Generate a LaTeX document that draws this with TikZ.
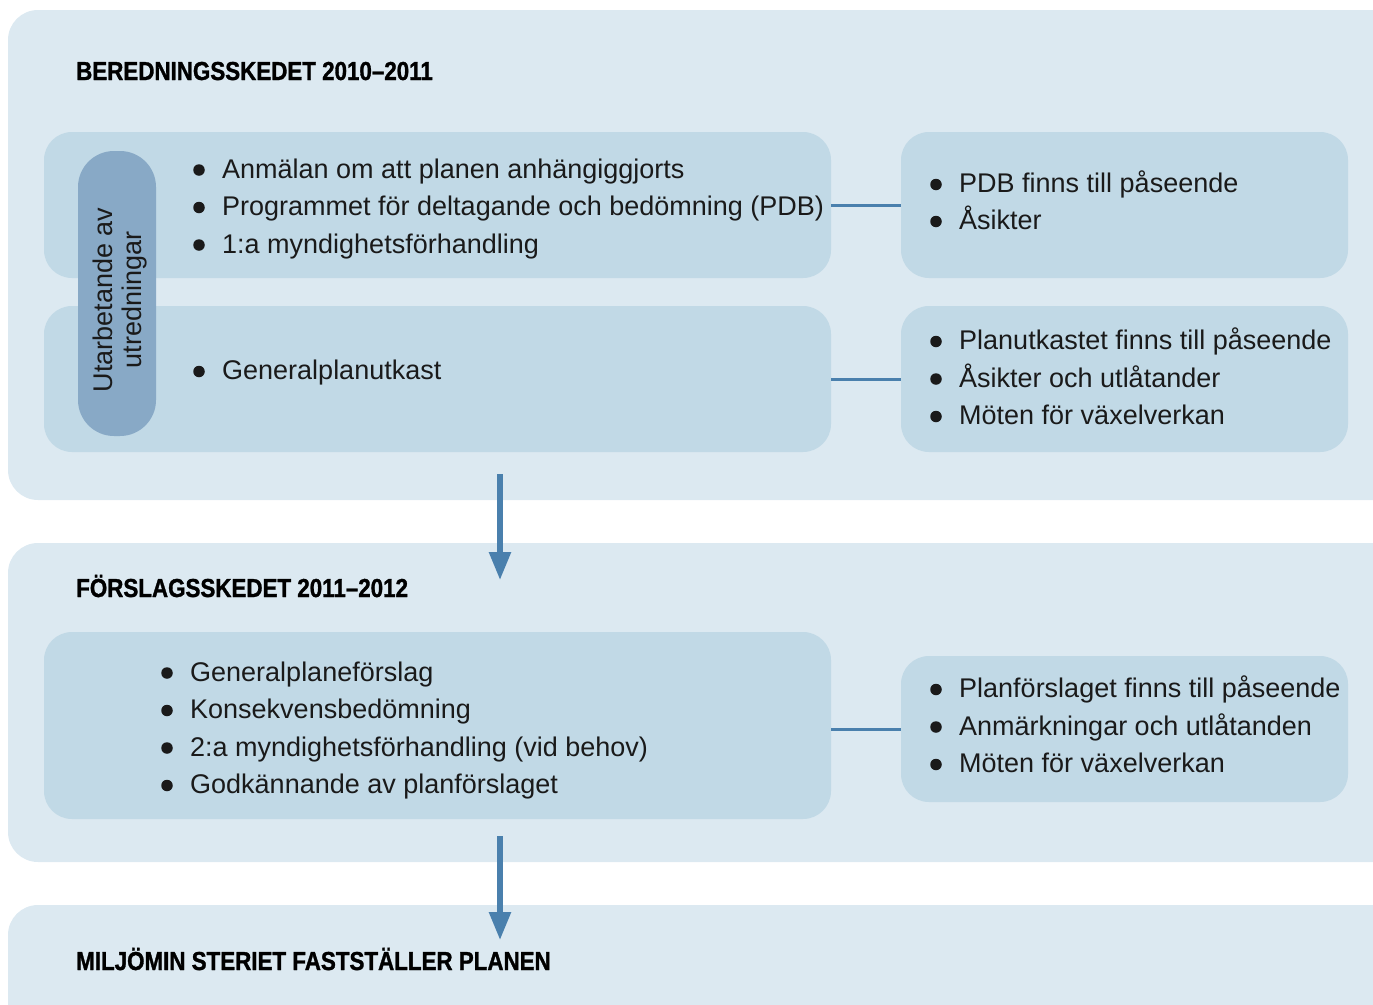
\documentclass[tikz,border=0pt]{standalone}
\usepackage{fontspec}
\setmainfont{Liberation Sans}
\newfontfamily\condfont[FakeStretch=0.86,FakeBold=1.2]{Liberation Sans}
\usetikzlibrary{arrows.meta}
\definecolor{panelbg}{HTML}{DCE9F1}
\definecolor{boxbg}{HTML}{C1D9E6}
\definecolor{pillbg}{HTML}{88A9C6}
\definecolor{linecol}{HTML}{4A80AD}
\definecolor{txtcol}{HTML}{1A1A1A}
\tikzset{
  panel/.style={fill=panelbg, draw=none, rounded corners=30pt, inner sep=0pt},
  box/.style={fill=boxbg, draw=none, rounded corners=28pt, inner sep=0pt},
  pill/.style={fill=pillbg, draw=none, rounded corners=36pt, inner sep=0pt},
  txt/.style={anchor=base west, inner sep=0pt, font=\fontsize{27}{30}\selectfont, text=txtcol},
  bul/.style={circle, fill=txtcol, draw=none, inner sep=0pt, minimum size=11.5pt},
  ttl/.style={anchor=base west, inner sep=0pt, font=\condfont\bfseries\fontsize{26}{28}\selectfont, text=black},
  conn/.style={draw=linecol, line width=3pt},
  flow/.style={draw=linecol, line width=5.5pt, -{Triangle[width=21pt,length=28pt]}}
}
\newcommand{\bitem}[4]{%
  \node[bul] (#1b) at ({#2-23},{#3-8}) {};
  \node[txt] (#1) at (#2,#3) {#4};}
\begin{document}
\begin{tikzpicture}[x=1pt,y=-1pt]
\useasboundingbox (0,0) rectangle (1373,1004);
\clip (0,0) rectangle (1373,1004);
% panels
\node[panel, minimum width=1420pt, minimum height=490pt] (P1) at (718,255) {};
\node[panel, minimum width=1420pt, minimum height=319pt] (P2) at (718,702.5) {};
\node[panel, minimum width=1420pt, minimum height=160pt] (P3) at (718,985) {};
% titles
\node[ttl] (T1) at (76,80) {BEREDNINGSSKEDET 2010–2011};
\node[ttl] (T2) at (76,597) {FÖRSLAGSSKEDET 2011–2012};
\node[ttl] (T3) at (76,970) {MILJÖMIN STERIET FASTSTÄLLER PLANEN};
% inner boxes
\node[box, minimum width=787pt, minimum height=146pt] (A) at (437.5,205) {};
\node[box, minimum width=787pt, minimum height=146pt] (B) at (437.5,379) {};
\node[box, minimum width=447pt, minimum height=146pt] (C) at (1124.5,205) {};
\node[box, minimum width=447pt, minimum height=146pt] (D) at (1124.5,379) {};
\node[box, minimum width=787pt, minimum height=187pt] (E) at (437.5,725.5) {};
\node[box, minimum width=447pt, minimum height=146pt] (F) at (1124.5,729) {};
% pill
\node[pill, minimum width=78pt, minimum height=285pt] (U) at (117,293.5) {};
\node[rotate=90, align=center, inner sep=0pt, text=txtcol,
      font=\fontsize{27}{29}\selectfont] (UT) at (120,300) {Utarbetande av\\utredningar};
% connectors
\draw[conn] (A.east) -- (C.west);
\draw[conn] (B.east) -- (D.west);
\draw[conn] (E.east |- F.west) -- (F.west);
% arrows
\coordinate (a1s) at (500,474);
\coordinate (a1e) at (500,580);
\coordinate (a2s) at (500,836);
\coordinate (a2e) at (500,940);
\draw[flow] (a1s) -- (a1e);
\draw[flow] (a2s) -- (a2e);
% texts
\bitem{A1}{222}{178}{Anmälan om att planen anhängiggjorts}
\bitem{A2}{222}{215.5}{Programmet för deltagande och bedömning (PDB)}
\bitem{A3}{222}{253}{1:a myndighetsförhandling}
\bitem{B1}{222}{379.5}{Generalplanutkast}
\bitem{C1}{959}{192.5}{PDB finns till påseende}
\bitem{C2}{959}{229.5}{Åsikter}
\bitem{D1}{959}{349.5}{Planutkastet finns till påseende}
\bitem{D2}{959}{387}{Åsikter och utlåtander}
\bitem{D3}{959}{424.5}{Möten för växelverkan}
\bitem{E1}{190}{681}{Generalplaneförslag}
\bitem{E2}{190}{718.5}{Konsekvensbedömning}
\bitem{E3}{190}{756}{2:a myndighetsförhandling (vid behov)}
\bitem{E4}{190}{793.5}{Godkännande av planförslaget}
\bitem{F1}{959}{697.5}{Planförslaget finns till påseende}
\bitem{F2}{959}{735}{Anmärkningar och utlåtanden}
\bitem{F3}{959}{772.5}{Möten för växelverkan}
\end{tikzpicture}
\end{document}
